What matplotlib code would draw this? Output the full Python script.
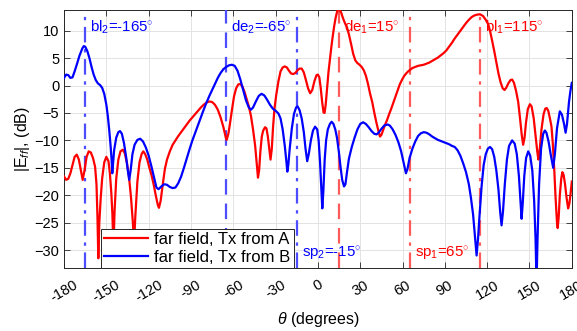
import numpy as np
import matplotlib
matplotlib.use("Agg")
import matplotlib.pyplot as plt

plt.rcParams['font.family'] = ['Liberation Sans', 'DejaVu Sans']
plt.rcParams['mathtext.fontset'] = 'custom'
plt.rcParams['mathtext.rm'] = 'Liberation Sans'
plt.rcParams['mathtext.it'] = 'Liberation Sans:italic'

# ---- data ----
theta_B = [-180, -178.5, -177, -175.5, -174, -172.5, -171, -169, -167, -166, -165, -163.5, -162, -160.5, -159,
           -157.5, -156, -154.5, -153, -151.5, -150, -149, -148, -147, -146.3, -145.8, -145.2, -144.5, -143,
           -141.5, -140.3, -139, -137.5, -136, -134.8, -133.8, -132.8, -131.5, -130, -128, -126, -124, -122,
           -120, -118, -116, -114.5, -113, -111, -109, -107, -105, -103, -101, -99, -97, -95, -93, -91, -89,
           -87, -85, -83, -81, -79, -77, -75, -73, -71, -69, -67, -65, -63, -61, -59, -57, -55, -53, -51, -49,
           -47.5, -46, -44, -42, -40, -38, -36, -34, -32, -30, -28, -26.5, -25, -23.5, -22.3, -21.7, -21, -20,
           -18.5, -17, -15.5, -14.4, -13, -11.5, -10, -8.8, -7.6, -6.5, -5, -3.5, -2, -0.5, 0.5, 1.5, 2.5, 3.1,
           3.8, 4.8, 5.8, 7, 8.5, 9.7, 11, 12.3, 13.5, 14.8, 16, 17.2, 18.5, 19.5, 20.5, 22, 24, 26, 28, 30, 32,
           34, 36, 38, 40, 41.6, 43, 45, 47, 49.4, 51, 53, 55, 57, 59, 61, 62.4, 63.5, 65, 67, 69, 71, 73, 75,
           77, 79, 81, 83, 85, 87, 89, 91, 93, 95, 97, 99, 101, 103, 105, 107, 108.5, 110, 111.5, 112.5, 113.5,
           114.5, 116, 117.5, 119, 120.5, 122, 123.5, 125, 126.5, 128, 129.2, 130.2, 131.2, 132.5, 134, 135.5,
           137.7, 139.5, 141, 142.5, 143.7, 144.4, 145.2, 146.3, 147.6, 149.1, 150.5, 152, 153.3, 154.3, 155,
           155.7, 156.8, 158.2, 159.7, 160.9, 162, 163.5, 165, 166.8, 168, 169.5, 171.5, 173, 174.5, 175.6,
           176.6, 178, 179, 180]
db_B = [1.4, 2.0, 1.9, 1.4, 1.5, 2.6, 3.8, 5.5, 6.8, 7.2, 7.1, 6.3, 5.0, 3.4, 2.0,
        1.0, 0.4, 0.1, -0.4, -1.5, -3.5, -5.5, -8.0, -11.0, -13.5, -16.0, -14.0, -11.8, -9.5,
        -8.5, -8.3, -8.8, -10.5, -13.0, -15.5, -17.2, -15.5, -12.5, -10.8, -9.9, -9.7, -10.2, -11.3,
        -12.8, -14.8, -17.0, -18.6, -18.9, -18.4, -18.0, -18.1, -18.5, -18.7, -18.6, -17.8, -16.6, -15.0, -13.3, -11.6, -10.0,
        -8.6, -7.2, -5.8, -4.4, -3.1, -1.9, -0.8, 0.3, 1.4, 2.3, 3.0, 3.4, 3.7, 3.8, 3.6, 2.7, 1.1, -0.8, -2.7, -4.0,
        -4.4, -4.0, -2.9, -1.9, -1.5, -1.8, -2.6, -3.5, -4.2, -4.6, -5.1, -6.0, -8.0, -11.0, -14.0, -15.7, -14.5, -11.5,
        -7.8, -5.2, -4.0, -3.8, -4.5, -6.0, -8.5, -11.5, -13.8, -12.5, -10.0, -8.2, -7.5, -8.0, -10.0, -14.0, -19.5, -22.4,
        -19.5, -13.5, -10.0, -8.0, -7.0, -6.6, -7.0, -8.0, -9.5, -12.0, -14.8, -17.2, -18.4, -18.0, -16.0, -13.3, -11.2, -9.5, -8.0, -7.0, -6.7,
        -7.0, -7.6, -8.3, -8.8, -8.9, -8.6, -7.9, -7.3, -7.1, -7.3, -8.0, -9.0, -10.3, -12.0, -14.3, -16.0, -15.2, -13.2, -11.5, -10.2, -9.2, -8.7, -8.5,
        -8.6, -8.9, -9.3, -9.6, -9.9, -10.1, -10.3, -10.5, -10.7, -11.0, -11.2, -11.8, -12.8, -14.2, -15.8, -18.0, -20.5, -23.5, -28.0, -31.0, -28.0,
        -24.0, -18.5, -14.5, -12.5, -11.5, -11.2, -11.6, -13.0, -15.5, -19.0, -23.0, -25.5, -23.0, -18.0, -13.5, -11.0,
        -10.0, -10.6, -12.5, -16.5, -21.5, -24.3, -21.5, -16.5, -13.2, -12.0, -12.8, -15.5, -21.0, -28.0, -36.0,
        -28.0, -18.0, -11.5, -8.8, -8.2, -8.6, -10.2, -12.5, -15.0, -12.5, -7.8, -4.7, -5.3, -7.0, -8.6,
        -7.0, -3.0, -1.0, 0.5]

theta_A = [-180, -178.5, -177, -175.5, -174, -172.5, -171, -169.5, -168, -166.8, -165.5, -164, -162.5, -161, -159.5,
           -158, -157, -156.3, -155.7, -155, -154, -153, -151.5, -150, -148.5, -147.5, -146.5, -145.7, -145, -144.2,
           -143, -141.5, -140, -138.4, -137, -135.5, -134, -132.5, -131.2, -130.4, -129.5, -128, -126.5, -125, -123.8,
           -122.5, -121, -119.5, -118, -116.5, -115, -113.5, -112.7, -111.5, -110, -108.5, -107, -105, -103, -101,
           -99, -97, -95, -93, -91, -89, -87, -85, -83, -81, -79, -77, -75, -73, -71, -69, -67, -65.5, -64.7, -63.5,
           -62.4, -61, -59.5, -58, -56.5, -55, -53.5, -52, -50.5, -49, -47.5, -46, -44.5, -43.3, -42.5, -41.7, -40.8,
           -39.8, -38.8, -37.5, -36.5, -35.5, -34.5, -33.6, -32.7, -31.8, -30.8, -29.5, -28, -26.5, -25, -23.5, -22,
           -20.5, -19, -17.5, -16, -14.5, -13, -11.5, -10, -8.5, -7, -5.5, -4, -2.5, -1, 0, 1, 2, 3, 4, 4.7, 5.5, 6.5,
           7.5, 8.5, 9.5, 10.5, 11.5, 12.5, 13.5, 14.4, 15.5, 16.5, 17.5, 18.5, 19.5, 20.5, 22, 23.5, 25, 26.5, 28,
           29.5, 31, 32.5, 34, 35.5, 37, 38.5, 40, 41.5, 43, 44, 45, 46, 47.5, 49, 50.5, 52, 53.5, 55, 56.5, 58, 59.5,
           61, 62.5, 64, 65.5, 67, 69, 71, 73, 75, 77, 79, 81, 83, 85, 87, 89, 91, 93, 95, 97, 99, 101, 103, 105, 107,
           109, 111, 113, 115, 117, 119, 120.7, 122, 123.5, 125, 126.5, 128, 129.5, 131, 132.3, 133.5, 135, 136.5,
           137.7, 139, 140.5, 142, 143.3, 144.5, 145.5, 146.5, 147.5, 148.8, 150.3, 151.5, 153, 154.5, 155.5, 156.3,
           157.3, 158.5, 160, 161.2, 162.2, 163.3, 164.5, 165.6, 166.5, 167.5, 168.5, 169.5, 170, 170.7, 171.5, 172.5,
           173.3, 174.2, 175.2, 176.3, 177.4, 178.3, 179.2, 180]
db_A = [-16.6, -17.2, -17.0, -16.0, -14.5, -13.0, -12.6, -13.5, -15.5, -17.2, -15.5, -13.0, -12.0, -12.2, -13.2,
        -14.8, -18.0, -24.0, -31.5, -25.0, -20.5, -17.0, -14.0, -13.0, -13.8, -16.0, -19.5, -23.5, -30.0, -23.0,
        -17.0, -13.5, -12.0, -11.7, -12.3, -14.0, -16.5, -20.5, -25.0, -29.0, -24.0, -17.5, -14.0, -12.5, -12.0,
        -12.5, -13.5, -15.0, -16.3, -18.0, -20.0, -21.8, -22.3, -21.0, -18.0, -15.2, -13.5, -12.0, -10.8, -10.0,
        -9.2, -8.5, -7.8, -7.1, -6.4, -5.8, -5.2, -4.6, -4.0, -3.5, -3.1, -2.9, -3.0, -3.5, -4.4, -5.8, -7.6, -9.3, -9.9, -8.8,
        -7.0, -4.5, -2.0, -0.5, 0.2, 0.3, -0.2, -1.2, -2.5, -3.8, -5.5, -8.0, -11.0, -14.5, -16.8, -15.5, -12.0,
        -9.3, -8.2, -7.6, -7.8, -9.3, -11.5, -13.5, -11.5, -7.5, -4.2, -1.6, 0.8, 2.6, 3.3, 3.5, 3.3,
        2.7, 2.2, 2.1, 2.3, 2.8, 3.1, 3.1, 2.4, 1.0, -0.5, -1.4, -0.8, 0.8, 1.9, 2.0, 1.5, -0.5, -3.0, -4.9, -5.0, -3.5, -0.5,
        2.5, 4.8, 7.0, 9.0, 10.8, 12.3, 13.4, 14.0, 13.8, 13.3, 12.5, 11.8, 11.2, 10.7, 9.3, 7.6, 5.8, 4.6, 4.1,
        3.8, 3.4, 2.8, 1.8, 0.3, -1.5, -3.0, -5.0, -6.8, -8.4, -9.3, -9.0, -8.3, -7.2, -6.3, -5.2, -4.2, -3.1, -2.0, -0.9, 0.2, 1.0,
        1.7, 2.2, 2.6, 2.9, 3.2, 3.4, 3.6, 3.7, 3.8, 4.0, 4.2, 4.5, 4.8, 5.1, 5.5, 5.9, 6.4, 7.1, 7.8, 8.6, 9.3, 10.0, 10.7, 11.4, 12.0,
        12.5, 12.8, 12.95, 13.0, 12.7, 12.0, 11.2, 10.0, 8.2, 6.3, 4.2, 2.2, 0.6, -0.5, -0.8, -0.4, 0.4, 1.0,
        1.1, 0.5, -1.0, -3.0, -6.0, -9.0, -10.8, -9.5, -6.8, -4.3, -3.4, -3.8, -6.0, -9.5, -12.0, -13.5,
        -11.5, -8.0, -5.2, -4.2, -4.1, -4.6, -6.0, -7.5, -10.5, -15.0, -20.5, -25.0, -26.0, -24.0, -20.0, -17.0,
        -15.8, -16.3, -18.0, -20.5, -22.4, -21.5, -19.5, -17.5]

# marker lines
line_angles = [-165, -65, -15, 15, 65, 115]
line_labels = ['bl$_2$=-165$^{\\circ}$', 'de$_2$=-65$^{\\circ}$', 'sp$_2$=-15$^{\\circ}$',
               'de$_1$=15$^{\\circ}$', 'sp$_1$=65$^{\\circ}$', 'bl$_1$=115$^{\\circ}$']
line_colors = ['#4d4dff', '#4d4dff', '#4d4dff', '#ff5a5a', '#ff5a5a', '#ff5a5a']
text_colors = ['blue', 'blue', 'blue', 'red', 'red', 'red']
line_styles = ['dashdot', 'dashed', 'dashdot', 'dashed', 'dashdot', 'dashdot']
label_top = [True, True, False, True, False, True]

xticks = list(range(-180, 181, 30))
yticks = list(range(-30, 11, 5))

fig = plt.figure(figsize=(5.77, 3.31), dpi=100)
ax = fig.add_axes([0.111, 0.190, 0.880, 0.780])

for a, lab, lc, tc, ls, top in zip(line_angles, line_labels, line_colors, text_colors, line_styles, label_top):
    if ls == 'dashed':
        ax.axvline(a, color=lc, lw=1.6, dashes=(7, 4), zorder=3)
    else:
        ax.axvline(a, color=lc, lw=1.6, dashes=(7, 3, 1.5, 3), zorder=3)
    ypos = 10.7 if top else -30.6
    ax.text(a + 3.5, ypos, lab, color=tc, fontsize=10.8, va='center', ha='left', zorder=5)

ax.plot(theta_A, db_A, color='red', lw=1.6, label='far field, Tx from A', zorder=4)
ax.plot(theta_B, db_B, color='blue', lw=1.6, label='far field, Tx from B', zorder=4)

ax.set_xlim(-180, 180)
ax.set_ylim(-33.3, 13.8)
ax.set_xticks(xticks)
ax.set_yticks(yticks)
ax.set_xticklabels([str(t) for t in xticks], rotation=30, fontsize=10.5)
ax.tick_params(axis='x', pad=7)
ax.tick_params(axis='y', labelsize=10.5)
ax.tick_params(direction='in', top=True, right=True, length=4, width=0.6, color='#262626')
ax.grid(True, color='#e3e3e3', lw=0.7)
ax.set_axisbelow(True)
for s in ax.spines.values():
    s.set_color('#262626')
    s.set_linewidth(0.7)

ax.set_xlabel('$\\theta$ (degrees)', fontsize=11.5, labelpad=4)
ax.set_ylabel('|E$_{ff}$|, (dB)', fontsize=11.5, labelpad=2)

leg = ax.legend(loc='lower left', bbox_to_anchor=(0.073, 0.0), borderaxespad=0,
                fancybox=False, framealpha=1, edgecolor='#262626', fontsize=12,
                handlelength=2.6, borderpad=0.2, labelspacing=0.15, handletextpad=0.4)
leg.get_frame().set_linewidth(0.7)
leg.set_zorder(10)

fig.savefig('out.png', dpi=100)
